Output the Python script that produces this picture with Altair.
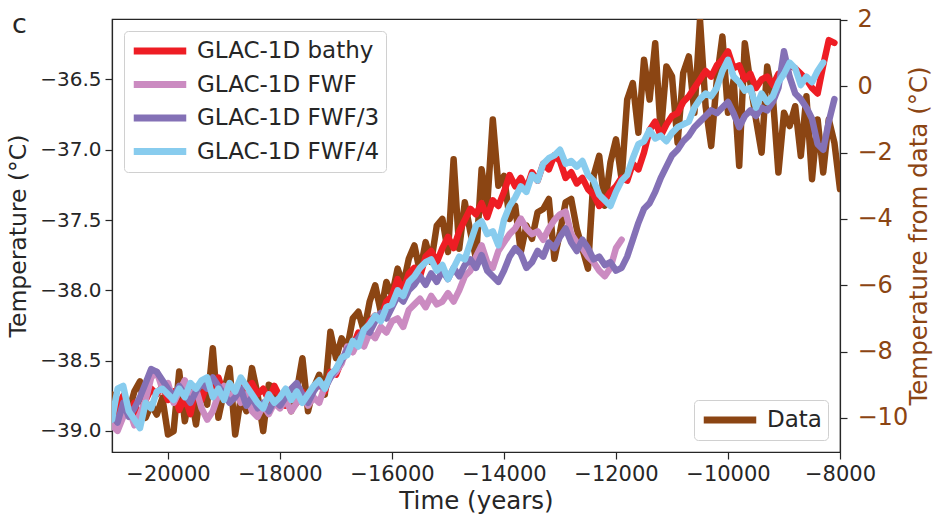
import altair as alt
import pandas as pd

T0 = -21000
STEP = 100

names = ["GLAC-1D bathy", "GLAC-1D FWF", "GLAC-1D FWF/3", "GLAC-1D FWF/4"]
colors = ["#ee1d24", "#cb8bc1", "#8471b6", "#88ccee"]
brown = "#8b4513"

bathy = [
    -38.90, -38.82, -38.75, -38.88, -38.80, -38.92, -38.78, -38.70, -38.74, -38.68,
    -38.78, -38.72, -38.85, -38.76, -38.88, -38.70, -38.78, -38.66, -38.72, -38.62,
    -38.74, -38.68, -38.72, -38.65, -38.70, -38.66, -38.74, -38.70, -38.78, -38.68,
    -38.76, -38.82, -38.74, -38.80, -38.72, -38.78, -38.70, -38.66, -38.72, -38.58,
    -38.60, -38.50, -38.44, -38.40, -38.30, -38.34, -38.22, -38.18, -38.20, -38.08,
    -38.04, -37.92, -38.00, -37.88, -37.84, -37.90, -37.76, -37.72, -37.80, -37.70,
    -37.62, -37.70, -37.58, -37.50, -37.42, -37.46, -37.38, -37.48, -37.36, -37.40,
    -37.30, -37.18, -37.26, -37.20, -37.28, -37.16, -37.22, -37.10, -37.14, -37.04,
    -37.08, -37.20, -37.16, -37.24, -37.20, -37.28, -37.32, -37.40, -37.36, -37.30,
    -37.26, -37.20, -37.22, -37.10, -37.14, -37.02, -36.86, -36.80, -36.90, -36.82,
    -36.76, -36.74, -36.66, -36.62, -36.56, -36.50, -36.44, -36.48, -36.40, -36.36,
    -36.30, -36.42, -36.40, -36.50, -36.46, -36.56, -36.50, -36.48, -36.54, -36.46,
    -36.44, -36.40, -36.42, -36.46, -36.50, -36.56, -36.60, -36.40, -36.22, -36.24,
]

fwf = [
    -38.96, -39.00, -38.90, -38.84, -38.96, -38.88, -38.78, -38.62, -38.58, -38.70,
    -38.66, -38.80, -38.72, -38.64, -38.76, -38.70, -38.84, -38.92, -38.86, -38.74,
    -38.68, -38.76, -38.72, -38.80, -38.74, -38.86, -38.90, -38.82, -38.88, -38.80,
    -38.84, -38.78, -38.86, -38.80, -38.74, -38.82, -38.76, -38.80, -38.68, -38.62,
    -38.58, -38.52, -38.40, -38.44, -38.36, -38.40, -38.30, -38.34, -38.26, -38.30,
    -38.22, -38.20, -38.26, -38.14, -38.10, -38.06, -38.12, -38.04, -38.10, -38.08,
    -38.02, -38.08, -38.00, -37.90, -37.86, -37.76, -37.68, -37.80, -37.84, -37.72,
    -37.66, -37.60, -37.56, -37.49, -37.56, -37.60, -37.58, -37.64, -37.56, -37.50,
    -37.46, -37.44, -37.60, -37.66, -37.70, -37.76, -37.80, -37.86, -37.90, -37.84,
    -37.70, -37.64,
]

fwf3 = [
    -38.88, -38.94, -38.80, -38.90, -38.84, -38.76, -38.66, -38.56, -38.58, -38.64,
    -38.70, -38.76, -38.68, -38.74, -38.80, -38.72, -38.66, -38.70, -38.62, -38.68,
    -38.74, -38.80, -38.76, -38.70, -38.82, -38.76, -38.84, -38.80, -38.86, -38.78,
    -38.82, -38.76, -38.70, -38.66, -38.74, -38.80, -38.72, -38.66, -38.70, -38.62,
    -38.56, -38.50, -38.42, -38.38, -38.34, -38.28, -38.30, -38.22, -38.16, -38.20,
    -38.12, -38.04, -38.08, -38.00, -37.96, -37.90, -37.96, -37.88, -37.94, -37.86,
    -37.92, -37.84, -37.90, -37.82, -37.78, -37.84, -37.75, -37.86, -37.90, -37.94,
    -37.86, -37.76, -37.70, -37.74, -37.84, -37.80, -37.72, -37.76, -37.66, -37.70,
    -37.62, -37.56, -37.66, -37.72, -37.64, -37.70, -37.78, -37.76, -37.82, -37.80,
    -37.86, -37.84, -37.76, -37.64, -37.52, -37.42, -37.38, -37.30, -37.20, -37.12,
    -37.04, -37.00, -36.94, -36.90, -36.84, -36.80, -36.76, -36.72, -36.74, -36.70,
    -36.66, -36.74, -36.84, -36.76, -36.72, -36.76, -36.70, -36.72, -36.66, -36.56,
    -36.30, -36.48, -36.60, -36.64, -36.70, -36.78, -36.96, -37.00, -36.80, -36.64,
]

fwf4 = [
    -38.92, -38.70, -38.68, -38.86, -38.92, -38.98, -38.80, -38.84, -38.72, -38.70,
    -38.74, -38.78, -38.70, -38.76, -38.66, -38.70, -38.64, -38.62, -38.76, -38.70,
    -38.78, -38.66, -38.72, -38.62, -38.68, -38.74, -38.80, -38.84, -38.74, -38.80,
    -38.76, -38.70, -38.78, -38.72, -38.80, -38.74, -38.68, -38.64, -38.70, -38.60,
    -38.56, -38.48, -38.46, -38.36, -38.40, -38.28, -38.24, -38.18, -38.22, -38.12,
    -38.10, -38.00, -38.04, -37.94, -37.90, -37.84, -37.80, -37.78, -37.86, -37.82,
    -37.92, -37.84, -37.76, -37.78, -37.66, -37.54, -37.51, -37.60, -37.58, -37.68,
    -37.50, -37.40, -37.34, -37.26, -37.30, -37.18, -37.22, -37.10, -37.06, -37.04,
    -37.00, -37.10, -37.08, -37.12, -37.08, -37.18, -37.22, -37.32, -37.36, -37.40,
    -37.30, -37.22, -37.18, -37.06, -36.96, -36.94, -36.86, -36.92, -36.90, -36.94,
    -36.88, -36.84, -36.82, -36.80, -36.70, -36.64, -36.60, -36.62, -36.56, -36.44,
    -36.36, -36.48, -36.52, -36.58, -36.56, -36.70, -36.60, -36.66, -36.62, -36.52,
    -36.46, -36.38, -36.42, -36.54, -36.48, -36.52, -36.44, -36.38,
]

obs_vals = [
    -9.3, -10.3, -9.5, -9.8, -9.2, -8.9, -10.0, -9.6, -9.9, -9.4,
    -10.5, -10.4, -8.6, -10.1, -9.2, -10.2, -9.0, -9.6, -7.9, -10.0,
    -9.2, -8.5, -10.5, -9.4, -9.8, -8.5, -9.3, -10.4, -9.0, -9.1,
    -9.6, -9.3, -9.8, -9.2, -8.2, -9.8, -9.1, -8.7, -9.3, -7.4,
    -8.2, -7.6, -7.9, -7.0, -6.8, -7.4, -6.5, -6.0, -6.8, -5.9,
    -6.3, -5.5, -6.0, -5.2, -4.8, -5.6, -4.7, -5.3, -4.2, -4.0,
    -5.0, -2.2, -4.9, -3.5, -4.4, -5.2, -2.5, -3.6, -1.0, -3.0,
    -2.7, -4.0, -3.6, -5.0, -4.2, -4.6, -3.8, -3.7, -3.4, -5.2,
    -4.4, -3.5, -3.4, -4.3, -4.9, -5.5, -2.7, -2.1, -3.6, -2.3,
    -1.6, -2.8, -0.4, 0.1, -1.4, 0.8, -0.4, 1.3, -1.4, 0.6,
    0.3, -1.7, 0.4, 0.9, -0.8, 2.0, -0.6, -1.8, 0.2, 1.5,
    -0.8, 0.2, -2.4, 1.3, 0.1, -1.0, -2.0, 0.6, -0.3, -2.6,
    -0.8, -1.2, -0.6, -2.1, -0.3, -2.8, -1.0, -2.6, -1.0, -1.7,
    -3.1,
]

x_ticks = [-20000, -18000, -16000, -14000, -12000, -10000, -8000]
left_ticks = [-39.0, -38.5, -38.0, -37.5, -37.0, -36.5]
right_ticks = [-10, -8, -6, -4, -2, 0, 2]

rows = []
for name, vals in zip(names, [bathy, fwf, fwf3, fwf4]):
    for i, v in enumerate(vals):
        rows.append({"time": T0 + i * STEP, "temp": v, "series": name})
models = pd.DataFrame(rows)
obs = pd.DataFrame({
    "time": [T0 + i * STEP for i in range(len(obs_vals))],
    "temp": obs_vals,
    "series": ["Data"] * len(obs_vals),
})

FONT = "DejaVu Sans"
TXT = "#262626"

x_enc = alt.X(
    "time:Q",
    scale=alt.Scale(domain=[-21000, -8000], nice=False, zero=False),
    axis=alt.Axis(values=x_ticks, format="d", title="Time (years)",
                  labelFlush=False, labelFontSize=21, titleFontSize=24.5,
                  labelPadding=4, titlePadding=5),
)

legend_common = dict(
    title=None,
    symbolType="M-2.5,0H2.5",
    symbolStrokeWidth=7,
    symbolSize=441,
    symbolOffset=16,
    labelOffset=23,
    labelLimit=400,
    labelFont=FONT,
    labelFontSize=23,
    labelColor=TXT,
    rowPadding=5.5,
    fillColor="white",
    strokeColor="#d0d0d0",
    cornerRadius=4,
    padding=6,
    offset=12,
)

line_style = dict(strokeWidth=6.5, strokeCap="round", strokeJoin="round", clip=True)

data_layer = alt.Chart(obs).mark_line(**line_style).encode(
    x=x_enc,
    y=alt.Y(
        "temp:Q",
        scale=alt.Scale(domain=[-11.03, 2.03], nice=False, zero=False),
        axis=alt.Axis(
            orient="right", values=right_ticks, format="d",
            title="Temperature from data (°C)", titleAngle=270,
            labelColor=brown, titleColor=brown, labelFontSize=24, titleFontSize=24.5,
            labelPadding=10, titlePadding=24,
        ),
    ),
    color=alt.Color(
        "series:N",
        scale=alt.Scale(domain=["Data"], range=[brown]),
        legend=alt.Legend(orient="bottom-right", **legend_common),
    ),
)

y_left = alt.Y(
    "temp:Q",
    scale=alt.Scale(domain=[-39.15, -36.07], nice=False, zero=False),
    axis=alt.Axis(orient="left", values=left_ticks, format=".1f",
                  title="Temperature (°C)", labelFontSize=20, titleFontSize=23.5,
                  labelPadding=4, titlePadding=9),
)
c_left = alt.Color(
    "series:N",
    scale=alt.Scale(domain=names, range=colors),
    legend=alt.Legend(orient="top-left", **legend_common),
)

model_layers = [
    alt.Chart(models).transform_filter(alt.datum.series == n).mark_line(**line_style).encode(
        x=x_enc, y=y_left, color=c_left
    )
    for n in names
]

chart = alt.layer(data_layer, alt.layer(*model_layers)).resolve_scale(
    y="independent", color="independent"
).properties(
    width=728,
    height=433,
    background="white",
    autosize=alt.AutoSizeParams(type="none"),
    padding={"left": 112, "top": 19, "right": 99, "bottom": 67},
    title=alt.TitleParams(
        "c", anchor="start", frame="group", fontSize=27, fontWeight="normal",
        font=FONT, color=TXT, dx=-100, dy=35,
    ),
).configure_view(
    stroke=TXT, strokeWidth=1.2
).configure_axis(
    grid=False,
    domainColor=TXT, domainWidth=1.2,
    tickColor=TXT, tickWidth=1.2, tickSize=7,
    labelFont=FONT, labelColor=TXT,
    titleFont=FONT, titleFontWeight="normal", titleColor=TXT,
)

chart.save("out.html", embed_options={"renderer": "svg", "actions": False})
